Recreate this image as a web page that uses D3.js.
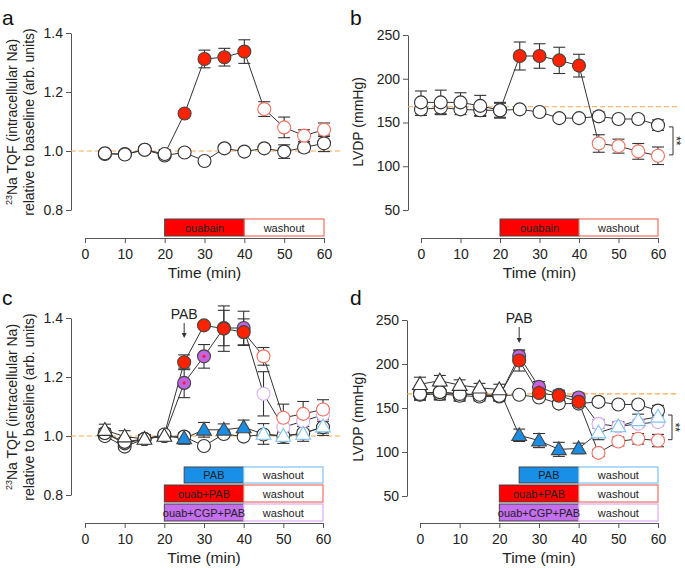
<!DOCTYPE html>
<html>
<head>
<meta charset="utf-8">
<script src="https://cdn.jsdelivr.net/npm/d3@7"></script>
<style>
  body { margin: 0; background: #fff; }
  svg { font-family: "Liberation Sans", Arial, sans-serif; }
</style>
</head>
<body>
<div class="graph"></div>
<script>
// time points
const minutesNa = [5, 10, 15, 20, 25, 30, 35, 40, 45, 50, 55, 60];
const minutesLvdp = [0, 5, 10, 15, 20, 25, 30, 35, 40, 45, 50, 55, 60];
const timeTicks = [0, 10, 20, 30, 40, 50, 60];
const naTicks = [0.8, 1.0, 1.2, 1.4];
const lvdpTicks = [50, 100, 150, 200, 250];

// panel a: 23Na TQF, ouabain
const naControlA = [0.99, 0.99, 1.004, 0.985, 0.995, 0.966, 1.009, 0.998, 1.009, 0.998, 1.012, 1.026];
const naControlErrA = [0.008, 0.01, 0.012, 0.01, 0.012, 0.005, 0.012, 0.005, 0.008, 0.023, 0.015, 0.028];
const naOuabainA = [0.992, 0.988, 1.004, 0.99, 1.127, 1.312, 1.318, 1.337, 1.142, 1.08, 1.052, 1.072];
const naOuabainErrA = [0.01, 0.01, 0.012, 0.015, 0.008, 0.03, 0.03, 0.04, 0.025, 0.035, 0.02, 0.023];

// panel b: LVDP, ouabain
const lvdpControlB = [165, 167, 165, 164, 164, 165, 162, 155, 155, 157, 154, 154, 147];
const lvdpControlErrB = [7, 7, 6, 6, 8, 3, 3, 3, 3, 5, 3, 4, 6];
const lvdpOuabainB = [173, 173, 173, 169, 164, 226, 226, 221, 215, 126, 123, 117, 112];
const lvdpOuabainErrB = [13, 14, 11, 12, 9, 16, 14, 15, 13, 10, 8, 9, 10];

// panel c: 23Na TQF, PAB groups
const naControlC = [1.0, 0.964, 0.99, 1.0, 0.998, 0.966, 1.007, 0.998, 1.005, 1.0, 1.01, 1.03];
const naControlErrC = [0.01, 0.01, 0.01, 0.01, 0.01, 0.005, 0.01, 0.005, 0.01, 0.01, 0.01, 0.02];
const naPabC = [1.02, 0.998, 0.99, 1.0, 0.992, 1.021, 1.021, 1.029, 1.007, 1.0, 1.007, 1.032];
const naPabErrC = [0.02, 0.02, 0.015, 0.01, 0.02, 0.025, 0.02, 0.025, 0.035, 0.025, 0.025, 0.03];
const naOuabPabC = [1.01, 0.98, 0.99, 1.005, 1.25, 1.375, 1.364, 1.352, 1.27, 1.062, 1.075, 1.09];
const naOuabPabErrC = [0.015, 0.015, 0.015, 0.01, 0.025, 0.01, 0.077, 0.045, 0.03, 0.046, 0.042, 0.033];
const naOuabCgpPabC = [1.01, 0.975, 0.99, 1.0, 1.18, 1.27, 1.366, 1.366, 1.143, 1.03, 1.05, 1.072];
const naOuabCgpPabErrC = [0.015, 0.02, 0.015, 0.01, 0.05, 0.04, 0.06, 0.057, 0.075, 0.03, 0.03, 0.03];

// panel d: LVDP, PAB groups
const lvdpControlD = [167, 168, 166, 165, 164, 165, 162, 155, 155, 157, 154, 154, 147];
const lvdpControlErrD = [8, 8, 6, 5, 5, 3, 3, 3, 3, 4, 3, 4, 6];
const lvdpPabD = [177, 181, 176, 173, 171, 119, 113, 103, 104, 122, 129, 136, 140];
const lvdpPabErrD = [8, 6, 6, 5, 6, 7, 8, 8, 6, 8, 5, 7, 6];
const lvdpOuabPabD = [166, 168, 166, 165, 164, 204, 167, 164, 157, 99, 112, 115, 113];
const lvdpOuabPabErrD = [6, 9, 8, 6, 6, 12, 6, 6, 5, 4, 5, 6, 7];
const lvdpOuabCgpPabD = [165, 166, 164, 163, 163, 209, 174, 165, 162, 132, 129, 132, 134];
const lvdpOuabCgpPabErrD = [6, 6, 6, 5, 5, 6, 6, 5, 5, 5, 5, 4, 4];

const colors = {
    red: '#ff2200', redOpen: '#f2705f', redBox: '#ff0000',
    blue: '#1b8de3', blueOpen: '#7cc2f2', blueBox: '#1a8fe8',
    purple: '#c064e0', purpleOpen: '#dcaaf4', purpleBox: '#c46ef0',
    ref: '#f7a94a'
};

const svg = d3.select('.graph')
    .append('svg')
    .attr('width', 685)
    .attr('height', 568);

function phase(t) {
    if (t <= 20) return 'base';
    if (t <= 40) return 'treat';
    return 'wash';
}

function series(times, values, errs, shape, fill, open) {
    return times.map((t, i) => ({ t, v: values[i], e: errs[i], shape, fill, open }));
}

function drawPanel(p) {
    const x = d3.scaleLinear().domain([0, 60]).range(p.xRange);
    const y = d3.scaleLinear().domain(p.yDomain).range(p.yRange);
    const g = svg.append('g');

    const yAxis = g.append('g')
        .attr('transform', `translate(${p.yAxisX},0)`)
        .call(d3.axisLeft(y).tickValues(p.yTicks).tickFormat(p.yFormat).tickSize(5).tickSizeOuter(0).tickPadding(3));
    const xAxis = g.append('g')
        .attr('transform', `translate(0,${p.xAxisY})`)
        .call(d3.axisBottom(x).tickValues(timeTicks).tickSize(5).tickSizeOuter(0).tickPadding(6));
    [yAxis, xAxis].forEach(a => {
        a.selectAll('path, line').attr('stroke', '#555');
        a.selectAll('text').attr('font-size', 14).attr('fill', '#222');
        a.attr('font-family', null);
    });

    g.append('text')
        .attr('x', (p.xRange[0] + p.xRange[1]) / 2)
        .attr('y', p.xAxisY + 40)
        .attr('text-anchor', 'middle')
        .attr('font-size', 15.5)
        .attr('fill', '#222')
        .text('Time (min)');

    // y label
    const yl = g.append('g')
        .attr('transform', `translate(0,${p.yLabelY}) rotate(-90)`);
    p.yLabel.forEach((line, i) => {
        const txt = yl.append('text')
            .attr('x', 0)
            .attr('y', p.yLabelX[i])
            .attr('text-anchor', 'middle')
            .attr('font-size', 14)
            .attr('fill', '#222');
        if (line.sup) {
            txt.append('tspan').attr('font-size', 9).attr('dy', -5).text(line.sup);
            txt.append('tspan').attr('dy', 5).text(line.text);
        } else {
            txt.text(line.text);
        }
    });

    // panel letter
    svg.append('text')
        .attr('x', p.letterPos[0])
        .attr('y', p.letterPos[1])
        .attr('font-size', 21)
        .attr('fill', '#111')
        .text(p.letter);

    // baseline reference
    g.append('line')
        .attr('x1', p.yAxisX).attr('x2', p.refEnd)
        .attr('y1', y(p.ref)).attr('y2', y(p.ref))
        .attr('stroke', colors.ref)
        .attr('stroke-width', 1.2)
        .attr('stroke-dasharray', '5,3');

    // treatment boxes
    p.boxes.forEach(b => {
        g.append('rect')
            .attr('x', x(b.from)).attr('y', b.y)
            .attr('width', x(40) - x(b.from)).attr('height', b.h)
            .attr('fill', b.fill).attr('stroke', '#444').attr('stroke-width', 1);
        g.append('rect')
            .attr('x', x(40)).attr('y', b.y)
            .attr('width', x(60) - x(40)).attr('height', b.h)
            .attr('fill', '#fff').attr('stroke', b.washStroke).attr('stroke-width', 1.2);
        g.append('text')
            .attr('x', (x(b.from) + x(40)) / 2).attr('y', b.y + b.h / 2 + 4)
            .attr('text-anchor', 'middle').attr('font-size', 11).attr('fill', '#222')
            .text(b.label);
        g.append('text')
            .attr('x', (x(40) + x(60)) / 2).attr('y', b.y + b.h / 2 + 4)
            .attr('text-anchor', 'middle').attr('font-size', 11).attr('fill', '#222')
            .text('washout');
    });

    const line = d3.line().x(d => x(d.t)).y(d => y(d.v));
    p.series.forEach(s => {
        g.append('path')
            .attr('d', line(s))
            .attr('fill', 'none')
            .attr('stroke', '#333')
            .attr('stroke-width', 1);
    });

    p.series.forEach(s => {
        const eb = g.append('g').attr('stroke', '#333').attr('stroke-width', 1.1);
        s.forEach(d => {
            eb.append('line').attr('x1', x(d.t)).attr('x2', x(d.t))
                .attr('y1', y(d.v - d.e)).attr('y2', y(d.v + d.e));
            [d.v - d.e, d.v + d.e].forEach(v => {
                eb.append('line').attr('x1', x(d.t) - 6).attr('x2', x(d.t) + 6)
                    .attr('y1', y(v)).attr('y2', y(v));
            });
        });
    });

    const tri = d3.symbol(d3.symbolTriangle).size(95)();
    p.series.forEach(s => {
        s.forEach(d => {
            const ph = d.fill ? phase(d.t) : 'base';
            const fill = ph === 'treat' ? d.fill : '#fff';
            const stroke = ph === 'treat' ? '#444' : ph === 'wash' ? d.open : '#333';
            let m;
            if (d.shape === 'triangle') {
                m = g.append('path').attr('d', tri)
                    .attr('transform', `translate(${x(d.t)},${y(d.v) + 1})`);
            } else {
                m = g.append('circle').attr('cx', x(d.t)).attr('cy', y(d.v)).attr('r', 6.5);
            }
            m.attr('fill', fill).attr('stroke', stroke).attr('stroke-width', 1.1);
            if (ph === 'treat' && d.fill === colors.purple) {
                g.append('circle').attr('cx', x(d.t)).attr('cy', y(d.v)).attr('r', 1.6)
                    .attr('fill', '#ff1744');
            }
        });
    });

    if (p.bracket) {
        const bx = p.bracket.x;
        g.append('path')
            .attr('d', `M${bx - 4},${y(p.bracket.hi)}H${bx}V${y(p.bracket.lo)}H${bx - 4}`)
            .attr('fill', 'none').attr('stroke', '#333').attr('stroke-width', 1);
        const my = (y(p.bracket.hi) + y(p.bracket.lo)) / 2;
        g.append('text')
            .attr('transform', `translate(${bx - 1},${my}) rotate(90)`)
            .attr('text-anchor', 'middle').attr('font-size', 12).attr('fill', '#222')
            .text('**');
    }

    if (p.arrow) {
        const ax = x(p.arrow.t);
        g.append('text')
            .attr('x', ax).attr('y', p.arrow.textY)
            .attr('text-anchor', 'middle').attr('font-size', 14).attr('fill', '#222')
            .text('PAB');
        g.append('line')
            .attr('x1', ax).attr('x2', ax)
            .attr('y1', p.arrow.y1).attr('y2', p.arrow.y2 - 3)
            .attr('stroke', '#333').attr('stroke-width', 1);
        g.append('path')
            .attr('d', `M${ax - 2.5},${p.arrow.y2 - 5}L${ax + 2.5},${p.arrow.y2 - 5}L${ax},${p.arrow.y2}Z`)
            .attr('fill', '#333');
    }
}

const naLabel = [
    { sup: '23', text: 'Na TQF (intracellular Na)' },
    { text: 'relative to baseline (arb. units)' }
];
const lvdpLabel = [{ text: 'LVDP (mmHg)' }];
const fmt1 = d3.format('.1f');
const fmt0 = d3.format('d');

drawPanel({
    letter: 'a', letterPos: [2, 25],
    xRange: [85, 324], yRange: [210, 33], yDomain: [0.8, 1.4],
    yTicks: naTicks, yFormat: fmt1, yAxisX: 71, xAxisY: 238,
    yLabel: naLabel, yLabelX: [17, 34], yLabelY: 122,
    ref: 1.0, refEnd: 340,
    boxes: [{ label: 'ouabain', from: 20, fill: colors.redBox, washStroke: colors.redOpen, y: 219, h: 17 }],
    series: [
        series(minutesNa, naControlA, naControlErrA, 'circle', null, null),
        series(minutesNa, naOuabainA, naOuabainErrA, 'circle', colors.red, colors.redOpen)
    ]
});

drawPanel({
    letter: 'b', letterPos: [350, 25],
    xRange: [421, 658], yRange: [210, 35], yDomain: [50, 250],
    yTicks: lvdpTicks, yFormat: fmt0, yAxisX: 408, xAxisY: 238,
    yLabel: lvdpLabel, yLabelX: [363], yLabelY: 122,
    ref: 168, refEnd: 677,
    boxes: [{ label: 'ouabain', from: 20, fill: colors.redBox, washStroke: colors.redOpen, y: 219, h: 17 }],
    series: [
        series(minutesLvdp, lvdpControlB, lvdpControlErrB, 'circle', null, null),
        series(minutesLvdp, lvdpOuabainB, lvdpOuabainErrB, 'circle', colors.red, colors.redOpen)
    ],
    bracket: { x: 673, hi: 145, lo: 113 }
});

drawPanel({
    letter: 'c', letterPos: [2, 305],
    xRange: [85, 323], yRange: [495, 318], yDomain: [0.8, 1.4],
    yTicks: naTicks, yFormat: fmt1, yAxisX: 71, xAxisY: 523,
    yLabel: naLabel, yLabelX: [17, 34], yLabelY: 407,
    ref: 1.0, refEnd: 340,
    boxes: [
        { label: 'PAB', from: 25, fill: colors.blueBox, washStroke: colors.blueOpen, y: 467, h: 16 },
        { label: 'ouab+PAB', from: 20, fill: colors.redBox, washStroke: colors.redOpen, y: 485, h: 17 },
        { label: 'ouab+CGP+PAB', from: 20, fill: colors.purpleBox, washStroke: colors.purpleOpen, y: 504, h: 17 }
    ],
    series: [
        series(minutesNa, naControlC, naControlErrC, 'circle', null, null),
        series(minutesNa, naOuabCgpPabC, naOuabCgpPabErrC, 'circle', colors.purple, colors.purpleOpen),
        series(minutesNa, naOuabPabC, naOuabPabErrC, 'circle', colors.red, colors.redOpen),
        series(minutesNa, naPabC, naPabErrC, 'triangle', colors.blue, colors.blueOpen)
    ],
    arrow: { t: 25, textY: 319, y1: 323, y2: 338 }
});

drawPanel({
    letter: 'd', letterPos: [350, 305],
    xRange: [420, 658], yRange: [496, 320], yDomain: [50, 250],
    yTicks: lvdpTicks, yFormat: fmt0, yAxisX: 407, xAxisY: 523,
    yLabel: lvdpLabel, yLabelX: [363], yLabelY: 417,
    ref: 166, refEnd: 677,
    boxes: [
        { label: 'PAB', from: 25, fill: colors.blueBox, washStroke: colors.blueOpen, y: 467, h: 16 },
        { label: 'ouab+PAB', from: 20, fill: colors.redBox, washStroke: colors.redOpen, y: 485, h: 17 },
        { label: 'ouab+CGP+PAB', from: 20, fill: colors.purpleBox, washStroke: colors.purpleOpen, y: 504, h: 17 }
    ],
    series: [
        series(minutesLvdp, lvdpControlD, lvdpControlErrD, 'circle', null, null),
        series(minutesLvdp, lvdpOuabCgpPabD, lvdpOuabCgpPabErrD, 'circle', colors.purple, colors.purpleOpen),
        series(minutesLvdp, lvdpOuabPabD, lvdpOuabPabErrD, 'circle', colors.red, colors.redOpen),
        series(minutesLvdp, lvdpPabD, lvdpPabErrD, 'triangle', colors.blue, colors.blueOpen)
    ],
    bracket: { x: 672, hi: 142, lo: 114 },
    arrow: { t: 25, textY: 323, y1: 327, y2: 343 }
});
</script>
</body>
</html>
